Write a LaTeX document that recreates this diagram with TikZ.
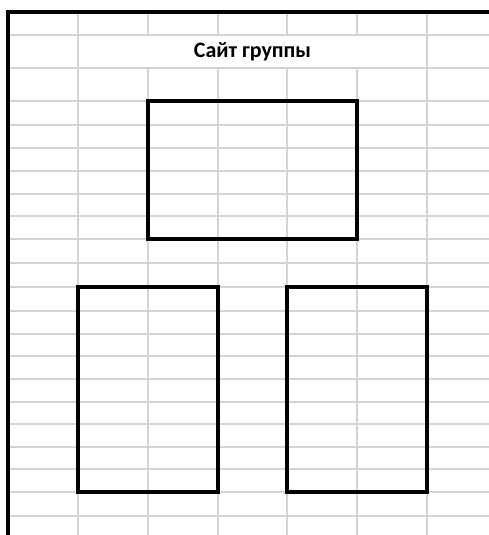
\documentclass[tikz,border=0pt]{standalone}
\usepackage{fontspec}
\setmainfont{Carlito}
\definecolor{gridgray}{RGB}{212,212,212}
\tikzset{
  gridline/.style={draw=gridgray, line width=1.3pt},
  border/.style={draw=black, line width=3.4pt},
  frame/.style={draw=black, line width=3.4pt, inner sep=0pt, outer sep=0pt},
  title/.style={font=\bfseries\fontsize{22}{26}\selectfont, inner sep=0pt, anchor=base}
}
\begin{document}
\begin{tikzpicture}[x=1pt,y=-1pt]
\useasboundingbox (0,0) rectangle (489,535);
\fill[white] (0,0) rectangle (489,535);
% horizontal grid lines
\foreach \y in {35,68,101,125,148,171,194,216,239,263,287,311,334,356,379,402,424,447,469,492,516}
  \draw[gridline] (8,\y) -- (489,\y);
% vertical grid lines
\foreach \x in {78,427}
  \draw[gridline] (\x,12) -- (\x,535);
\foreach \x in {148,218,287,357}{
  \draw[gridline] (\x,12) -- (\x,35);
  \draw[gridline] (\x,68) -- (\x,535);
}
% sheet borders
\coordinate (tl) at (8,12);
\coordinate (tr) at (489,12);
\coordinate (bl) at (8,535);
\draw[border] (tr) -- (tl) -- (bl);
% title
\node[title] (t) at (252.5,58) {Сайт группы};
% boxes
\node[frame, minimum width=209pt, minimum height=138pt] (top) at (252.5,170) {};
\node[frame, minimum width=140pt, minimum height=205pt] (left) at (148,389.5) {};
\node[frame, minimum width=140pt, minimum height=205pt] (right) at (357,389.5) {};
\end{tikzpicture}
\end{document}
